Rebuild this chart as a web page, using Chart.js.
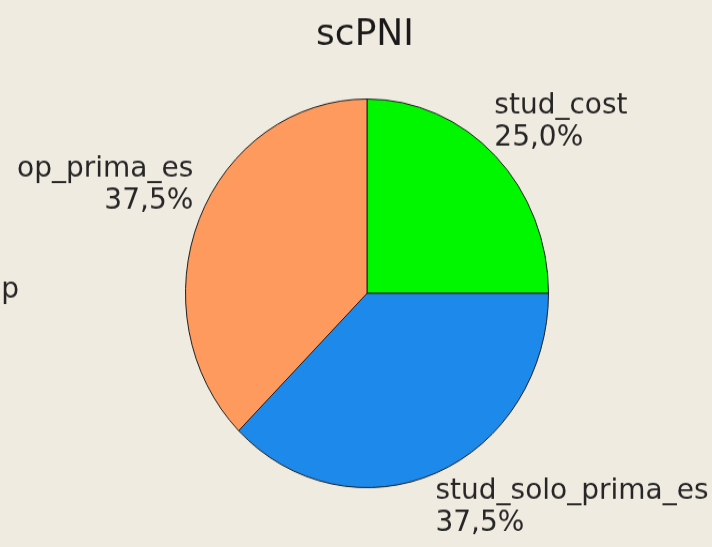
<!DOCTYPE html>
<html>
<head>
<meta charset="utf-8">
<script src="https://cdn.jsdelivr.net/npm/chart.js@4/dist/chart.umd.min.js"></script>
<style>
    html, body { margin: 0; padding: 0; background: #efebe1; }
    #wrap { position: relative; width: 712px; height: 547px; }
    #pieChart { display: block; }
</style>
</head>
<body>
<div id="wrap"><canvas id="pieChart" width="712" height="511" style="width:712px;height:547px"></canvas></div>
<script>
const chartTitle = 'scPNI';
const categories = ['stud_cost', 'stud_solo_prima_es', 'op_prima_es'];
const counts = [2, 3, 3];
const sliceColors = ['#00f700', '#1d89ea', '#fe9a5d'];
const clippedLegendText = 'p';

// the original pie is slightly taller than wide: canvas is stretched by this in CSS
const stretchY = 547 / 511;

const total = counts.reduce((a, b) => a + b, 0);
const formatPct = (v) => (v / total * 100).toFixed(1).replace('.', ',') + '%';

// Draws title, slice labels and the clipped bit of text at the left edge
const labelPlugin = {
    id: 'sliceLabels',
    afterDraw(chart) {
        const ctx = chart.ctx;
        const arcs = chart.getDatasetMeta(0).data;
        ctx.save();
        // undo the CSS stretch for text, work in screen coords from here
        ctx.scale(1, 1 / stretchY);
        ctx.fillStyle = '#1a1a1a';

        // Title
        ctx.font = '36px "DejaVu Sans", sans-serif';
        ctx.textAlign = 'center';
        ctx.textBaseline = 'alphabetic';
        ctx.fillText(chartTitle, arcs[0].x - 2, 45);

        ctx.font = '28px "DejaVu Sans", sans-serif';
        ctx.fillStyle = '#262626';
        arcs.forEach((arc, i) => {
            const mid = (arc.startAngle + arc.endAngle) / 2;
            const px = arc.x + Math.cos(mid) * arc.outerRadius;
            const py = (arc.y + Math.sin(mid) * arc.outerRadius) * stretchY;
            const cy = arc.y * stretchY;
            const right = px >= arc.x;
            ctx.textAlign = right ? 'left' : 'right';
            const tx = right ? px - 1 : px - 6;
            let base1;
            if (py < cy) {
                base1 = py - 10 - 32;
            } else {
                base1 = py + 26;
            }
            ctx.fillText(categories[i], tx, base1);
            ctx.fillText(formatPct(counts[i]), tx, base1 + 32);
        });

        // left-edge fragment
        ctx.textAlign = 'right';
        ctx.fillText(clippedLegendText, 19, 298);
        ctx.restore();
    }
};

function initChart() {
    const ctx = document.getElementById('pieChart').getContext('2d');
    new Chart(ctx, {
        type: 'pie',
        data: {
            labels: categories,
            datasets: [{
                data: counts,
                backgroundColor: sliceColors,
                borderColor: '#1e1e1e',
                borderWidth: 1,
                hoverOffset: 0,
                offset: 0
            }]
        },
        options: {
            responsive: false,
            animation: false,
            devicePixelRatio: 1,
            layout: {
                padding: { top: 92, bottom: 55, left: 185, right: 163 }
            },
            plugins: {
                legend: { display: false },
                tooltip: { enabled: false },
                title: { display: false }
            }
        },
        plugins: [labelPlugin]
    });
}

document.addEventListener('DOMContentLoaded', initChart);
</script>
</body>
</html>
